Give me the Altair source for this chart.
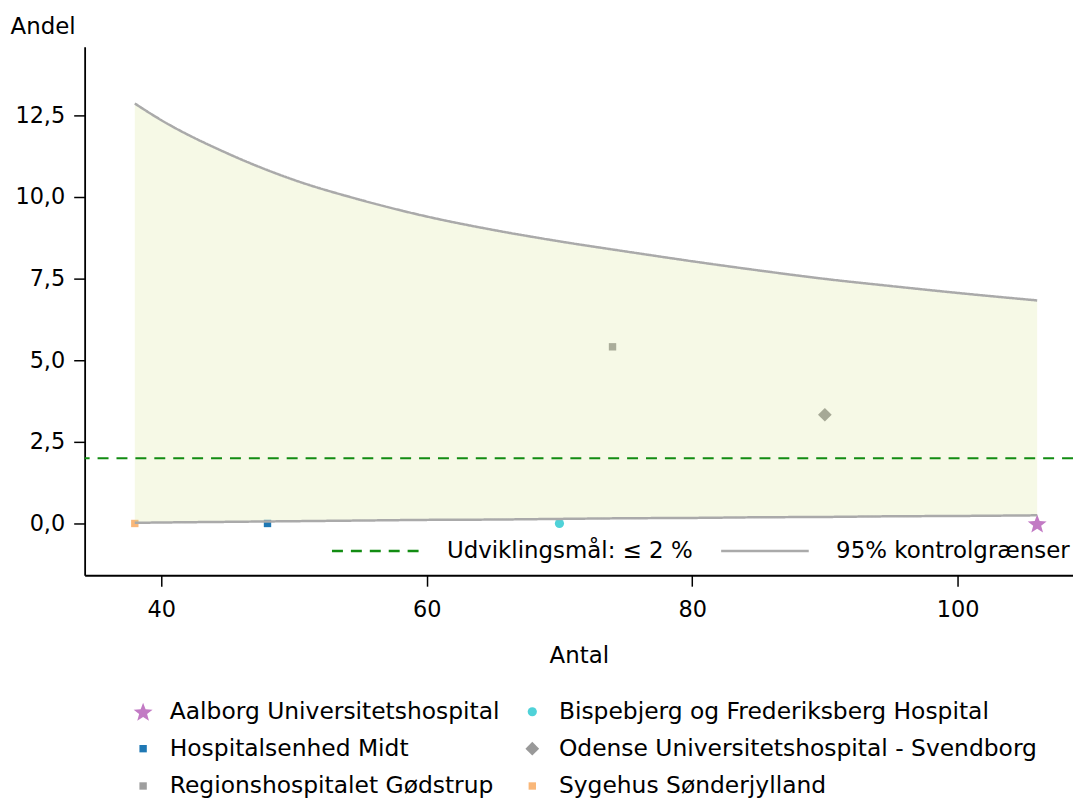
import math
import altair as alt
import pandas as pd

# ---- data ----
hospitals = [
    "Aalborg Universitetshospital",
    "Bispebjerg og Frederiksberg Hospital",
    "Hospitalsenhed Midt",
    "Odense Universitetshospital - Svendborg",
    "Regionshospitalet Gødstrup",
    "Sygehus Sønderjylland",
]
antal = [106, 70, 48, 90, 74, 38]
andel = [0.0, 0.0, 0.0, 3.33, 5.41, 0.0]

limit_x = [38, 40, 45, 50, 55, 60, 65, 70, 75, 80, 85, 90, 95, 100, 106]
upper = [12.86, 12.35, 11.33, 10.52, 9.91, 9.40, 8.99, 8.64, 8.33, 8.03, 7.75, 7.49, 7.27, 7.06, 6.83]
lower = [0.02, 0.03, 0.05, 0.07, 0.09, 0.11, 0.12, 0.14, 0.16, 0.17, 0.19, 0.20, 0.22, 0.23, 0.25]

target_label = "Udviklingsmål: ≤ 2 %"
limit_label = "95% kontrolgrænser"
target_value = 2.0

# ---- tables ----
pts = pd.DataFrame({"hospital": hospitals, "antal": antal, "andel": andel})
band = pd.DataFrame({"antal": limit_x, "upper": upper, "lower": lower})
lim_long = pd.concat([
    pd.DataFrame({"antal": limit_x, "value": upper, "bound": "upper", "serie": limit_label}),
    pd.DataFrame({"antal": limit_x, "value": lower, "bound": "lower", "serie": limit_label}),
])
tgt = pd.DataFrame({"value": [target_value], "serie": [target_label]})

# ---- styles ----
FONT = "DejaVu Sans"
star = []
for k in range(10):
    a = math.radians(-90 + 36 * k)
    r = 1.0 if k % 2 == 0 else 0.42
    star.append(f"{r*math.cos(a):.3f},{r*math.sin(a)+0.1:.3f}")
star_path = "M" + " L".join(star) + " Z"

pt_colors = ["#c27ac4", "#4fd2d8", "#1f78b4", "#999999", "#9e9e9e", "#f9b779"]
pt_shapes = [star_path, "circle", "square", "diamond", "square", "square"]
pt_sizes = [400, 85, 55, 190, 55, 55]

xscale = alt.Scale(domain=[34.22, 108.7], nice=False, zero=False)
yscale = alt.Scale(domain=[-1.585, 14.6], nice=False, zero=False)

xax = alt.Axis(values=[40, 60, 80, 100], title="Antal", grid=False,
               labelPadding=12, titlePadding=24)
yax = alt.Axis(
    values=[0, 2.5, 5, 7.5, 10, 12.5],
    labelExpr="replace(format(datum.value, '.1f'), '.', ',')",
    labelPadding=9,
    title="Andel", titleAngle=0, titleAlign="left", titleBaseline="middle",
    titleX=-75, titleY=-20, grid=False,
)

pt_legend = alt.Legend(
    title=None, orient="none", legendX=47, legendY=656, columns=2, direction="horizontal",
    labelFontSize=23.5, labelFont=FONT, labelColor="black", labelLimit=0,
    symbolStrokeWidth=0, labelOffset=15, columnPadding=20, rowPadding=12.5, padding=0,
)

x = alt.X("antal:Q", scale=xscale, axis=xax)

points = alt.Chart(pts).mark_point(filled=True, opacity=1, strokeWidth=0).encode(
    x=x,
    y=alt.Y("andel:Q", scale=yscale, axis=yax),
    fill=alt.Fill("hospital:N", scale=alt.Scale(domain=hospitals, range=pt_colors), legend=pt_legend),
    shape=alt.Shape("hospital:N", scale=alt.Scale(domain=hospitals, range=pt_shapes), legend=pt_legend),
    size=alt.Size("hospital:N", scale=alt.Scale(type="ordinal", domain=hospitals, range=pt_sizes), legend=pt_legend),
)

area = alt.Chart(band).mark_area(color="#d4e48c", opacity=0.22, interpolate="monotone").encode(
    x=x, y=alt.Y("upper:Q", scale=yscale), y2="lower:Q"
)

line_legend = alt.Legend(
    title=None, orient="none", legendX=247, legendY=461, direction="horizontal",
    symbolType="stroke", symbolSize=7744, symbolStrokeWidth=2.5,
    labelFontSize=23, labelFont=FONT, labelColor="black", labelLimit=0,
    labelOffset=26, columnPadding=22, padding=0,
)
ser_domain = [target_label, limit_label]
stroke_enc = alt.Stroke("serie:N", scale=alt.Scale(domain=ser_domain, range=["#128c12", "#aaaaaa"]), legend=line_legend)
dash_enc = alt.StrokeDash("serie:N", scale=alt.Scale(domain=ser_domain, range=[[11, 8], [1, 0]]), legend=line_legend)

lines = alt.Chart(lim_long).mark_line(strokeWidth=2.5, interpolate="monotone").encode(
    x=x, y=alt.Y("value:Q", scale=yscale), detail="bound:N", stroke=stroke_enc, strokeDash=dash_enc
)

rule = alt.Chart(tgt).mark_rule(strokeWidth=2).encode(
    y=alt.Y("value:Q", scale=yscale), stroke=stroke_enc, strokeDash=dash_enc
)

chart = alt.layer(points, area, lines, rule).properties(
    width=993, height=531,
    autosize=alt.AutoSizeParams(type="none"),
    padding={"left": 77, "top": 37, "right": 0, "bottom": 240},
).configure_view(stroke=None).configure_axis(
    domainColor="black", domainWidth=1.8, tickColor="black", tickWidth=1.5, tickSize=11,
    labelFont=FONT, labelFontSize=22.5, labelColor="black",
    titleFont=FONT, titleFontSize=23, titleFontWeight="normal", titleColor="black",
)

chart.save("out.html", embed_options={"renderer": "svg", "actions": False})
